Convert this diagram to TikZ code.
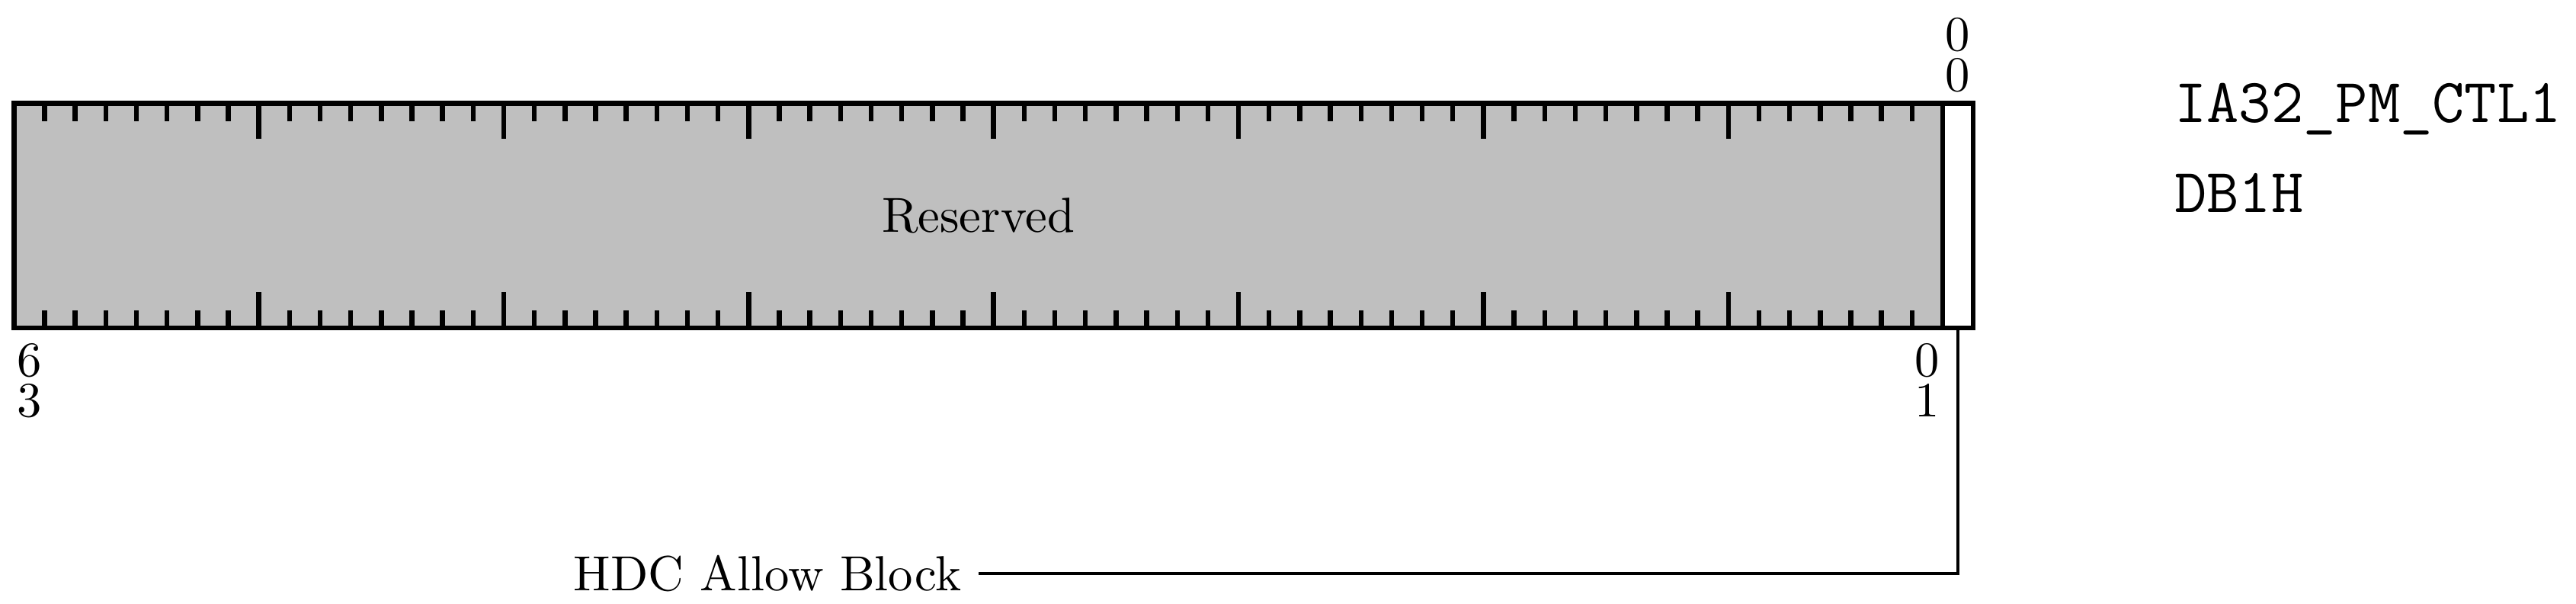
\documentclass[tikz,border=0pt]{standalone}
\usepackage{fontspec}
\usetikzlibrary{positioning, calc}

\begin{document}
\begin{tikzpicture}[
		fieldBox/.style={
				draw, shape=rectangle, line width=1pt,
				minimum height=1.6cm, inner sep=0pt, outer sep=0pt,
				anchor=south west
			},
		bitTick/.style={line width=1pt},
		bitNumber/.style={align=center, inner sep=0.333em},
		regName/.style={font=\fontsize{12.7}{16}\ttfamily, inner sep=0pt, anchor=base west},
		leaderLine/.style={line width=0.5pt}
	]

	\useasboundingbox (-0.0995,-1.967) rectangle (18.27,2.337);

	% Register fields
	\node[fieldBox, fill=lightgray, minimum width=13.7529cm] (rsv) at (0,0) {Reserved};
	\node[fieldBox, fill=white, minimum width=0.2183cm] (b0) at (rsv.south east) {};

	% Bit ticks
	\foreach \i in {1,...,62} {
			\draw[bitTick] ($(rsv.north west)+(\i*0.2183,-0.018)$) -- ++(0,-0.109);
			\draw[bitTick] ($(rsv.south west)+(\i*0.2183,0.018)$) -- ++(0,0.109);
		}
	\foreach \i in {8,16,...,56} {
			\draw[bitTick] ($(rsv.north west)+(\i*0.2183,-0.018)$) -- ++(0,-0.236);
			\draw[bitTick] ($(rsv.south west)+(\i*0.2183,0.018)$) -- ++(0,0.236);
		}

	% Bit numbers
	\node[bitNumber, above, yshift=-1.2pt] (top0) at (b0.north) {0\\[-3.8pt]0};
	\node[bitNumber, below, yshift=0.4pt] (bot63) at ($(rsv.south west)+(0.1092,0)$) {6\\[-3.8pt]3};
	\node[bitNumber, below, yshift=0.4pt] (bot1) at ($(rsv.south east)+(-0.1092,0)$) {0\\[-3.8pt]1};

	% Register name and address
	\node[regName] (name) at (15.40,1.462) {IA32\_PM\_CTL1};
	\node[regName] (addr) at (15.40,0.826) {DB1H};

	% Field description
	\node[anchor=east] (hdc) at (6.879,-1.75) {HDC Allow Block};
	\draw[leaderLine] (hdc.east) -| (b0.south);
\end{tikzpicture}
\end{document}
